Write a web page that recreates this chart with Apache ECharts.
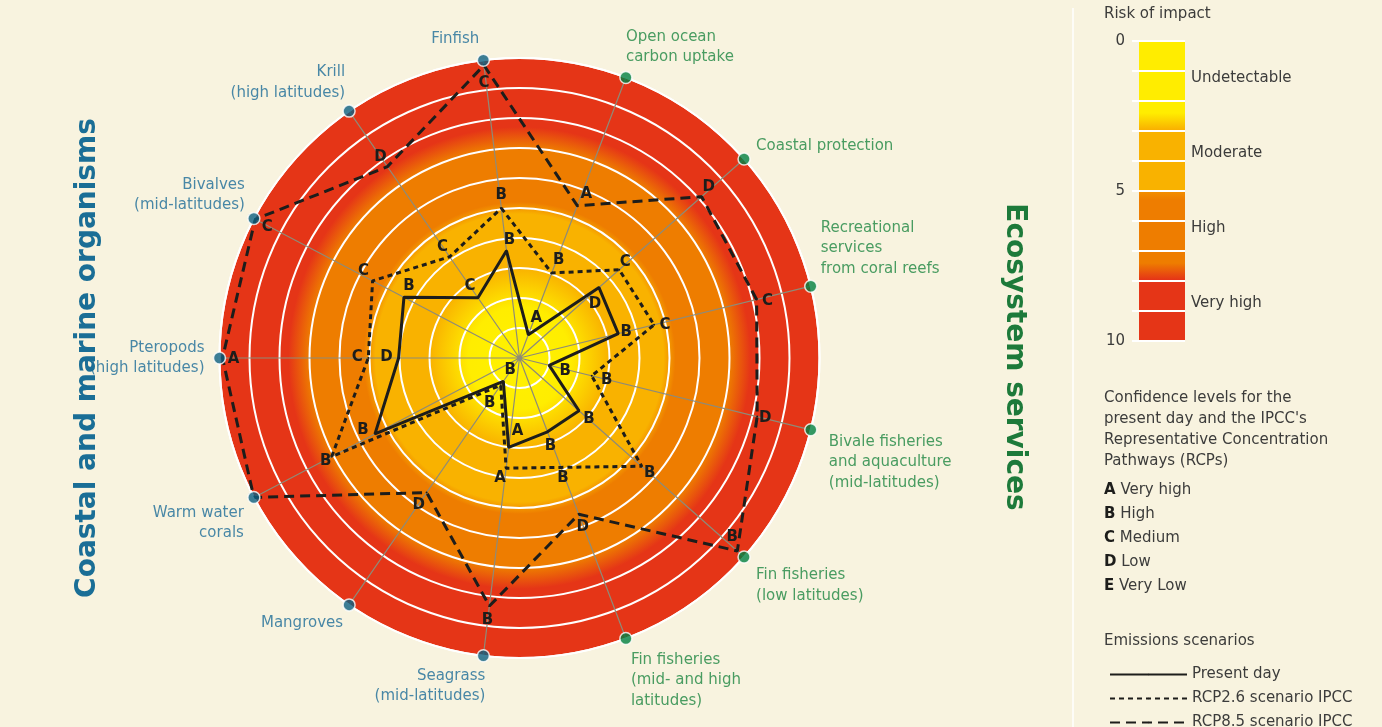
<!DOCTYPE html>
<html>
<head>
<meta charset="utf-8">
<title>Risk of impact</title>
<script src="https://cdn.jsdelivr.net/npm/echarts@6/dist/echarts.min.js"></script>
<style>
    html, body { margin: 0; padding: 0; background: #f8f3df; }
    #chart { width: 1382px; height: 727px; }
</style>
</head>
<body>
<div id="chart"></div>
<script>
    // axes, clockwise starting at Finfish
    const axisNames = ['Finfish', 'Open ocean carbon uptake', 'Coastal protection', 'Recreational services from coral reefs',
        'Bivale fisheries and aquaculture (mid-latitudes)', 'Fin fisheries (low latitudes)', 'Fin fisheries (mid- and high latitudes)',
        'Seagrass (mid-latitudes)', 'Mangroves', 'Warm water corals', 'Pteropods (high latitudes)', 'Bivalves (mid-latitudes)',
        'Krill (high latitudes)'];
    const axisLabels = ['Finfish', 'Open ocean\ncarbon uptake', 'Coastal protection', 'Recreational\nservices\nfrom coral reefs',
        'Bivale fisheries\nand aquaculture\n(mid-latitudes)', 'Fin fisheries\n(low latitudes)', 'Fin fisheries\n(mid- and high\nlatitudes)',
        'Seagrass\n(mid-latitudes)', 'Mangroves', 'Warm water\ncorals', 'Pteropods\n(high latitudes)', 'Bivalves\n(mid-latitudes)',
        'Krill\n(high latitudes)'];
    // o = coastal and marine organisms, s = ecosystem services
    const axisGroup = ['o', 's', 's', 's', 's', 's', 's', 'o', 'o', 'o', 'o', 'o', 'o'];

    // risk of impact 0..10
    const presentDay = [3.6, 0.83, 3.54, 3.39, 1.02, 2.65, 2.63, 3.0, 0.95, 5.44, 4.03, 4.35, 2.44];
    const presentConf = ['B', 'A', 'D', 'B', 'B', 'B', 'B', 'A', 'B', 'B', 'D', 'B', 'C'];
    const rcp26 = [5.03, 3.03, 4.44, 4.62, 2.48, 5.44, 3.9, 3.7, 1.1, 7.07, 5.04, 5.53, 4.1];
    const rcp26Conf = ['B', 'B', 'C', 'C', 'B', 'B', 'B', 'A', 'B', 'B', 'C', 'C', 'C'];
    const rcp85 = [9.83, 5.43, 8.11, 8.14, 8.16, 9.7, 5.57, 8.33, 5.45, 10, 9.9, 9.95, 7.75];
    const rcp85Conf = ['C', 'A', 'D', 'C', 'D', 'B', 'D', 'B', 'D', 'B', 'A', 'C', 'D'];

    const riskTicks = [0, 5, 10];
    const riskBands = ['Undetectable', 'Moderate', 'High', 'Very high'];
    const confLevels = [['A', 'Very high'], ['B', 'High'], ['C', 'Medium'], ['D', 'Low'], ['E', 'Very Low']];
    const scenarioNames = ['Present day', 'RCP2.6 scenario IPCC', 'RCP8.5 scenario IPCC'];

    // label placement (styling only)
    const presentOffsets = [[3, -11], [8, -17], [-4, 17], [8, -2], [16, 6], [10, 8], [3, 14], [9, -16], [7, -11], [-12, -4], [-12, -1], [5, -11], [-8, -12]];
    const rcp26Offsets = [[0, -13], [7, -13], [6, -8], [11, 0], [15, 4], [8, 7], [2, 11], [-6, 10], [-11, 18], [-6, 5], [-11, -1], [-9, -10], [-7, -10]];
    const rcp85Offsets = [[0, 18], [9, -12], [7, -10], [11, 2], [8, 2], [-5, -14], [4, 13], [-2, 14], [-8, 13], [14, -10], [11, 1], [12, 8], [-7, -10]];
    const namePlacement = [
        ['right', 'middle', -4, -21], ['left', 'bottom', 0, -10], ['left', 'middle', 12, -13], ['left', 'bottom', 10, -7],
        ['left', 'top', 18, 2], ['left', 'top', 12, 8], ['left', 'top', 5, 11], ['right', 'top', 2, 10],
        ['right', 'middle', -6, 18], ['right', 'top', -10, 5], ['right', 'middle', -15, 0], ['right', 'bottom', -9, -3],
        ['right', 'bottom', -4, -8]
    ];

    const FONT = 'DejaVu Sans';
    const TEXT = '#3c3c3b';
    const INK = '#1d1d1b';
    const CX = 519.5;
    const CY = 358;
    const R = 300;
    const N = axisNames.length;
    const START = 180 - 3 * 360 / N;
    const groupStyle = {
        o: {dot: '#0c5f80', text: '#1b6c97'},
        s: {dot: '#008040', text: '#1d8641'}
    };

    const discGradient = {
        type: 'radial', x: CX, y: CY, r: R, global: true,
        colorStops: [
            {offset: 0, color: '#fff200'},
            {offset: 0.17, color: '#ffed00'},
            {offset: 0.3, color: '#f9b200'},
            {offset: 0.48, color: '#f9b200'},
            {offset: 0.52, color: '#ee7d00'},
            {offset: 0.7, color: '#ee7d00'},
            {offset: 0.77, color: '#e53517'},
            {offset: 1, color: '#e53517'}
        ]
    };
    const barGradient = {
        type: 'linear', x: 0, y: 0, x2: 0, y2: 1,
        colorStops: [
            {offset: 0, color: '#ffed00'},
            {offset: 0.24, color: '#ffed00'},
            {offset: 0.295, color: '#f9b200'},
            {offset: 0.5, color: '#f9b200'},
            {offset: 0.5, color: '#f29000'},
            {offset: 0.53, color: '#ee7d00'},
            {offset: 0.74, color: '#ee7d00'},
            {offset: 0.795, color: '#e53517'},
            {offset: 1, color: '#e53517'}
        ]
    };

    const hidden = {show: false};

    function makeLine(name, values, conf, offsets, dash) {
        const data = values.map((v, i) => ({
            value: [v, i],
            label: {offset: offsets[i]}
        }));
        data.push({value: [values[0], 0], label: {show: false}});
        return {
            name: name,
            type: 'line',
            coordinateSystem: 'polar',
            polarIndex: 1,
            data: data,
            symbol: 'circle',
            symbolSize: 2,
            itemStyle: {color: INK},
            lineStyle: {color: INK, width: 3, type: dash},
            label: {
                show: true,
                position: 'inside',
                formatter: (p) => conf[p.dataIndex] || '',
                fontFamily: FONT,
                fontWeight: 'bold',
                fontSize: 15,
                color: INK
            },
            emphasis: {disabled: true},
            z: 5
        };
    }

    // angle axis: one unit per indicator, full turn
    function angleAxis(idx, extra) {
        return Object.assign({
            polarIndex: idx,
            type: 'value',
            min: 0,
            max: N,
            interval: 1,
            startAngle: START,
            axisLine: hidden, axisTick: hidden, axisLabel: hidden, splitLine: hidden
        }, extra);
    }

    const chart = echarts.init(document.getElementById('chart'));
    chart.setOption({
        animation: false,
        backgroundColor: '#f8f3df',
        textStyle: {fontFamily: FONT},
        polar: [
            {center: [CX, CY], radius: R},
            {center: [CX, CY], radius: R}
        ],
        angleAxis: [
            angleAxis(0, {z: 0}),
            angleAxis(1, {
                axisLine: {show: true, lineStyle: {color: '#ffffff', width: 2}},
                splitLine: {show: true, lineStyle: {color: '#8e8b78', width: 1.2}},
                z: 3
            })
        ],
        radiusAxis: [
            {
                polarIndex: 0,
                min: 0,
                max: 10,
                interval: 1,
                axisLine: hidden, axisTick: hidden, axisLabel: hidden, splitLine: hidden,
                splitArea: {show: true, areaStyle: {color: [discGradient]}},
                z: 0
            },
            {
                polarIndex: 1,
                min: 0,
                max: 10,
                interval: 1,
                axisLine: hidden, axisTick: hidden, axisLabel: hidden,
                splitLine: {show: true, lineStyle: {color: '#ffffff', width: 2}},
                z: 2
            }
        ],
        grid: {left: 1139, top: 41, width: 46, height: 300},
        xAxis: {type: 'category', data: ['risk'], show: false},
        yAxis: [
            {
                type: 'value',
                min: 0,
                max: 10,
                interval: 1,
                inverse: true,
                axisLine: hidden,
                axisTick: {show: true, length: 7, lineStyle: {color: '#ffffff', width: 2}},
                splitLine: {show: true, lineStyle: {color: '#ffffff', width: 2}},
                axisLabel: {
                    margin: 14,
                    fontSize: 15,
                    color: TEXT,
                    formatter: (v) => riskTicks.indexOf(v) >= 0 ? String(v) : ''
                },
                z: 4
            },
            {
                type: 'category',
                data: riskBands,
                inverse: true,
                position: 'right',
                axisLine: hidden,
                axisTick: hidden,
                splitLine: hidden,
                axisLabel: {margin: 6, fontSize: 15, color: TEXT}
            }
        ],
        legend: {
            left: 1104,
            top: 662,
            height: 120,
            orient: 'vertical',
            itemWidth: 77,
            itemHeight: 2,
            itemGap: 9,
            selectedMode: false,
            data: scenarioNames,
            lineStyle: {width: 2},
            textStyle: {fontSize: 15, color: TEXT, fontFamily: FONT}
        },
        series: [
            {
                type: 'bar',
                xAxisIndex: 0,
                yAxisIndex: 0,
                barWidth: '100%',
                data: [10],
                itemStyle: {color: barGradient},
                silent: true,
                z: 2
            },
            makeLine(scenarioNames[2], rcp85, rcp85Conf, rcp85Offsets, [10, 6]),
            makeLine(scenarioNames[1], rcp26, rcp26Conf, rcp26Offsets, [5, 4]),
            makeLine(scenarioNames[0], presentDay, presentConf, presentOffsets, 'solid'),
            {
                type: 'scatter',
                coordinateSystem: 'polar',
                polarIndex: 1,
                clip: false,
                symbolSize: 12,
                data: axisNames.map((n, i) => {
                    const g = groupStyle[axisGroup[i]];
                    const pl = namePlacement[i];
                    return {
                        name: n,
                        value: [10, i],
                        itemStyle: {color: g.dot},
                        label: {
                            formatter: axisLabels[i],
                            color: g.text,
                            align: pl[0],
                            verticalAlign: pl[1],
                            offset: [pl[2], pl[3]]
                        }
                    };
                }),
                itemStyle: {borderColor: '#ffffff', borderWidth: 1.5},
                label: {
                    show: true,
                    position: 'inside',
                    fontFamily: FONT,
                    fontSize: 15,
                    lineHeight: 20.5
                },
                emphasis: {disabled: true},
                z: 6
            }
        ],
        graphic: [
            {
                type: 'line',
                shape: {x1: 1073, y1: 8, x2: 1073, y2: 727},
                style: {stroke: '#ffffff', lineWidth: 1.5},
                silent: true
            },
            {
                type: 'text',
                x: 88,
                y: 358,
                rotation: Math.PI / 2,
                style: {
                    text: 'Coastal and marine organisms',
                    fontFamily: FONT, fontSize: 28, fontWeight: 'bold',
                    fill: '#1a6e96', align: 'center', verticalAlign: 'middle'
                }
            },
            {
                type: 'text',
                x: 1014,
                y: 357,
                rotation: -Math.PI / 2,
                style: {
                    text: 'Ecosystem services',
                    fontFamily: FONT, fontSize: 28, fontWeight: 'bold',
                    fill: '#1d7a3a', align: 'center', verticalAlign: 'middle'
                }
            },
            {
                type: 'text',
                left: 1104,
                top: 7,
                style: {text: 'Risk of impact', fontFamily: FONT, fontSize: 15, fill: TEXT}
            },
            {
                type: 'text',
                left: 1104,
                top: 388,
                style: {
                    text: 'Confidence levels for the\npresent day and the IPCC\'s\nRepresentative Concentration\nPathways (RCPs)',
                    fontFamily: FONT, fontSize: 15, fill: TEXT, lineHeight: 21
                }
            },
            {
                type: 'text',
                left: 1104,
                top: 478,
                style: {
                    text: confLevels.map((c) => '{b|' + c[0] + '} ' + c[1]).join('\n'),
                    fontFamily: FONT, fontSize: 15, fill: TEXT, lineHeight: 24,
                    rich: {b: {fontFamily: FONT, fontSize: 15, fontWeight: 'bold', fill: INK, lineHeight: 24}}
                }
            },
            {
                type: 'text',
                left: 1104,
                top: 634,
                style: {text: 'Emissions scenarios', fontFamily: FONT, fontSize: 15, fill: TEXT}
            }
        ]
    });
</script>
</body>
</html>
